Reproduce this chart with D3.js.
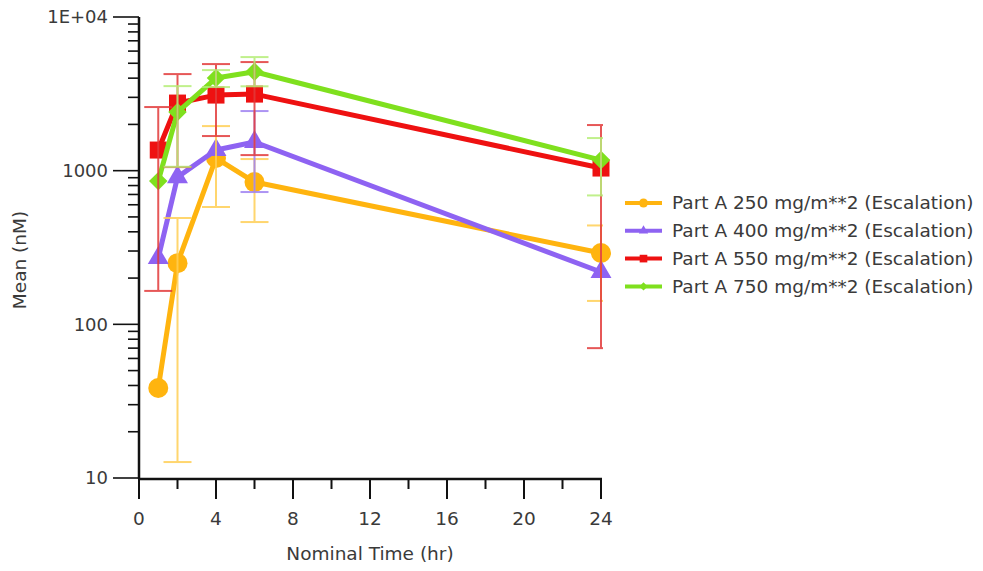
<!DOCTYPE html>
<html><head><meta charset="utf-8">
<script src="https://cdn.jsdelivr.net/npm/d3@7"></script>
<style>
body{margin:0;background:#fff}
text{font-family:"DejaVu Sans",sans-serif;fill:#3a3a3a}
</style>
</head><body>
<svg id="c" width="983" height="571"></svg>
<script>
// ---- data ----
const times = [1, 2, 4, 6, 24];
const seriesNames = [
  "Part A 250 mg/m**2 (Escalation)",
  "Part A 400 mg/m**2 (Escalation)",
  "Part A 550 mg/m**2 (Escalation)",
  "Part A 750 mg/m**2 (Escalation)"
];
const mean250 = [38.5, 250, 1208, 843, 291];
const low250  = [null, 12.7, 580, 463, 142];
const high250 = [null, 492, 1950, 1190, 440];

const mean400 = [270, 908, 1362, 1535, 219];
const low400  = [null, null, null, 726, null];
const high400 = [null, null, null, 2443, null];

const mean550 = [1362, 2754, 3104, 3150, 1040];
const low550  = [165, 1055, 1680, 1263, 70];
const high550 = [2594, 4251, 4939, 5090, 1981];

const mean750 = [855, 2406, 4005, 4400, 1172];
const low750  = [null, 1060, 3500, 3540, 690];
const high750 = [null, 3550, 4513, 5485, 1630];

const xTicks = [0, 4, 8, 12, 16, 20, 24];
const xMinorTicks = [2, 6, 10, 14, 18, 22];
const yTicks = [10, 100, 1000, 10000];
const yTickLabels = ["10", "100", "1000", "1E+04"];
const xTitle = "Nominal Time (hr)";
const yTitle = "Mean (nM)";

const colors = ["#FFB40F", "#8E63F2", "#EE1111", "#7FE01E"];
const errColors = ["#FFCF55", "#9F82F2", "#E23A3A", "#B6EE78"];
const shapes = ["circle", "triangle", "square", "diamond"];

const series = [
  {mean: mean250, low: low250, high: high250},
  {mean: mean400, low: low400, high: high400},
  {mean: mean550, low: low550, high: high550},
  {mean: mean750, low: low750, high: high750}
];

// ---- layout ----
const svg = d3.select("#c");
const x = d3.scaleLinear().domain([0, 24]).range([139, 601]);
const y = d3.scaleLog().domain([10, 10000]).range([478, 17]);

svg.append("defs").append("clipPath").attr("id", "clipE")
  .append("rect").attr("x", 0).attr("y", 0).attr("width", 603).attr("height", 571);

function symbolPath(shape, big) {
  const k = big ? 1 : 0.45;
  if (shape === "circle") return d3.symbol(d3.symbolCircle, 314 * k * k)();
  if (shape === "triangle") return d3.symbol(d3.symbolTriangle, 190 * k * k)();
  if (shape === "square") return d3.symbol(d3.symbolSquare, 289 * k * k)();
  return d3.symbol(d3.symbolSquare, 170 * k * k)();
}

// lines + markers
const line = d3.line().x(d => x(d[0])).y(d => y(d[1]));
series.forEach((s, i) => {
  const pts = times.map((t, j) => [t, s.mean[j]]);
  const g = svg.append("g");
  g.append("path").attr("d", line(pts)).attr("fill", "none")
    .attr("stroke", colors[i]).attr("stroke-width", 5)
    .attr("stroke-linejoin", "round");
  g.selectAll("path.m").data(pts).enter().append("path").attr("class", "m")
    .attr("d", symbolPath(shapes[i], true))
    .attr("transform", d => `translate(${x(d[0])},${y(d[1])})` + (shapes[i] === "diamond" ? " rotate(45)" : ""))
    .attr("fill", colors[i]);
});

// error bars
const eg = svg.append("g").attr("clip-path", "url(#clipE)");
series.forEach((s, i) => {
  times.forEach((t, j) => {
    const cx = x(t);
    const lo = s.low[j], hi = s.high[j];
    if (lo == null && hi == null) return;
    const g = eg.append("g").attr("stroke", errColors[i]).attr("stroke-width", 2).attr("opacity", 0.85);
    const yl = y(lo != null ? lo : s.mean[j]);
    const yh = y(hi != null ? hi : s.mean[j]);
    g.append("line").attr("x1", cx).attr("x2", cx).attr("y1", yl).attr("y2", yh);
    if (lo != null) g.append("line").attr("x1", cx - 14).attr("x2", cx + 14).attr("y1", yl).attr("y2", yl);
    if (hi != null) g.append("line").attr("x1", cx - 14).attr("x2", cx + 14).attr("y1", yh).attr("y2", yh);
  });
});

// axes
const ax = svg.append("g");
ax.append("line").attr("x1", 139).attr("x2", 139).attr("y1", 17).attr("y2", 479)
  .attr("stroke", "#111").attr("stroke-width", 2.5);
const yMinor = [];
for (let d = 10; d < 10000; d *= 10) for (let m = 2; m <= 9; m++) yMinor.push(d * m);
ax.selectAll("line.ym").data(yMinor).enter().append("line")
  .attr("x1", 128).attr("x2", 139).attr("y1", d => y(d)).attr("y2", d => y(d))
  .attr("stroke", "#111").attr("stroke-width", 1.6);
ax.selectAll("line.yM").data(yTicks).enter().append("line")
  .attr("x1", 113).attr("x2", 139).attr("y1", d => y(d)).attr("y2", d => y(d))
  .attr("stroke", "#111").attr("stroke-width", 1.6);
ax.selectAll("text.yl").data(yTicks).enter().append("text")
  .attr("x", 108).attr("y", d => y(d)).attr("dy", "0.35em")
  .attr("text-anchor", "end").attr("font-size", 18)
  .text((d, i) => yTickLabels[i]);
ax.append("line").attr("x1", 138).attr("x2", 602).attr("y1", 479).attr("y2", 479)
  .attr("stroke", "#111").attr("stroke-width", 2.5);
ax.selectAll("line.xM").data(xTicks).enter().append("line")
  .attr("x1", d => x(d)).attr("x2", d => x(d)).attr("y1", 479).attr("y2", 499)
  .attr("stroke", "#111").attr("stroke-width", 2);
ax.selectAll("line.xm").data(xMinorTicks).enter().append("line")
  .attr("x1", d => x(d)).attr("x2", d => x(d)).attr("y1", 479).attr("y2", 489)
  .attr("stroke", "#111").attr("stroke-width", 2);
ax.selectAll("text.xl").data(xTicks).enter().append("text")
  .attr("x", d => x(d)).attr("y", 525).attr("text-anchor", "middle").attr("font-size", 18.5)
  .text(d => d);
ax.append("text").attr("x", 370).attr("y", 560).attr("text-anchor", "middle")
  .attr("font-size", 18.5).text(xTitle);
ax.append("text").attr("transform", "translate(26,260) rotate(-90)")
  .attr("text-anchor", "middle").attr("font-size", 18.5).text(yTitle);

// legend
const lg = svg.append("g");
seriesNames.forEach((n, i) => {
  const ly = 203 + i * 27.8;
  lg.append("line").attr("x1", 625).attr("x2", 662).attr("y1", ly).attr("y2", ly)
    .attr("stroke", colors[i]).attr("stroke-width", 4);
  lg.append("path").attr("d", symbolPath(shapes[i], false))
    .attr("transform", `translate(643.5,${ly})` + (shapes[i] === "diamond" ? " rotate(45)" : ""))
    .attr("fill", colors[i]);
  lg.append("text").attr("x", 672).attr("y", ly).attr("dy", "0.35em")
    .attr("font-size", 18.5).text(n);
});
</script>
</body></html>
